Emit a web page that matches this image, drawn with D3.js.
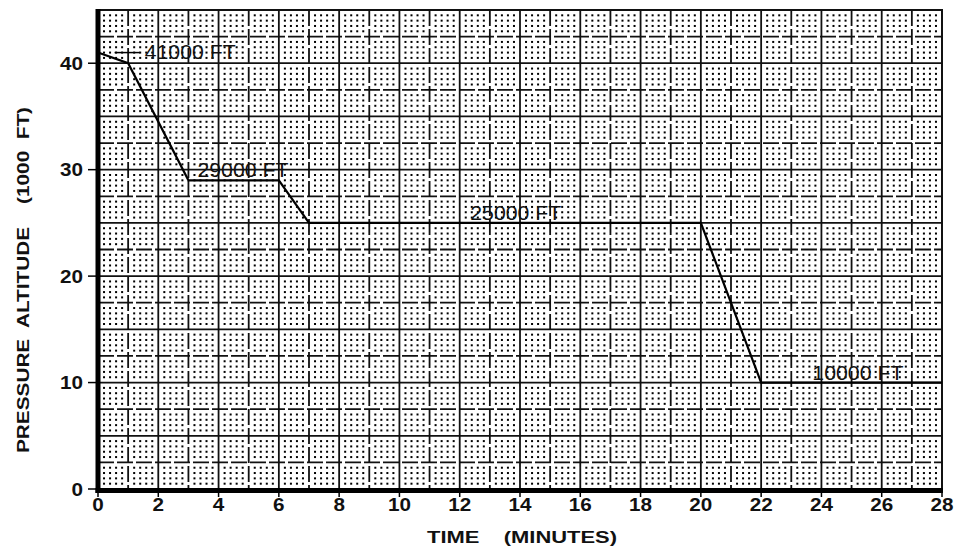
<!DOCTYPE html>
<html>
<head>
<meta charset="utf-8">
<script src="https://cdn.jsdelivr.net/npm/d3@7"></script>
<style>
  body { margin: 0; background: #fff; }
  text { font-family: "Liberation Sans", Arial, sans-serif; fill: #111; }
</style>
</head>
<body>
<div id="chart"></div>
<script>
// flight profile
var minutes = [0, 1, 3, 6, 7, 20, 22, 28];
var altitude = [41, 40, 29, 29, 25, 25, 10, 10];

// annotations (minute, altitude in 1000 ft)
var labelText = ["41000 FT", "29000 FT", "25000 FT", "10000 FT"];
var labelMin = [1.55, 3.3, 12.35, 23.7];
var labelAlt = [41.1, 30.0, 26.0, 10.9];
var leaderMin = [0.55, 1.4];
var leaderAlt = 41;

var xTicks = d3.range(0, 29, 2);
var yTicks = [0, 10, 20, 30, 40];

var width = 957, height = 549;

var x = d3.scaleLinear().domain([0, 28]).range([98, 942]);
var y = d3.scaleLinear().domain([0, 45]).range([489, 10]);

var svg = d3.select("#chart")
  .append("svg")
  .attr("width", width)
  .attr("height", height);

// dotted minor grid (0.2 min x 500 ft)
var dots = [];
for (var j = 1; j < 140; j++) {
  if (j % 5 == 0) continue;
  for (var k = 1; k < 90; k++) {
    if (k % 5 == 0) continue;
    dots.push([j * 0.2, k * 0.5]);
  }
}
svg.append("g")
  .selectAll("rect")
  .data(dots)
  .enter()
  .append("rect")
  .attr("x", function (d) { return x(d[0]) - 1; })
  .attr("y", function (d) { return y(d[1]) - 1; })
  .attr("width", 2)
  .attr("height", 2)
  .style("fill", "#000");

// grid lines
var vLines = d3.range(1, 28);
var hLines = d3.range(1, 18).map(function (i) { return i * 2.5; });

svg.append("g")
  .selectAll("line")
  .data(vLines)
  .enter()
  .append("line")
  .attr("x1", function (d) { return x(d); })
  .attr("x2", function (d) { return x(d); })
  .attr("y1", y(45))
  .attr("y2", y(0))
  .style("stroke", "#111")
  .style("stroke-width", 1.8)
  .style("stroke-dasharray", function (d) { return d % 2 == 0 ? null : "16,3"; });

svg.append("g")
  .selectAll("line")
  .data(hLines)
  .enter()
  .append("line")
  .attr("x1", x(0))
  .attr("x2", x(28))
  .attr("y1", function (d) { return y(d); })
  .attr("y2", function (d) { return y(d); })
  .style("stroke", "#111")
  .style("stroke-width", 1.8)
  .style("stroke-dasharray", function (d) { return d % 5 == 0 ? null : "16,3"; });

// frame: thin top/right, thick left/bottom
svg.append("line")
  .attr("x1", x(0)).attr("x2", x(28) + 1)
  .attr("y1", y(45)).attr("y2", y(45))
  .style("stroke", "#111").style("stroke-width", 2);
svg.append("line")
  .attr("x1", x(28)).attr("x2", x(28))
  .attr("y1", y(45)).attr("y2", y(0))
  .style("stroke", "#111").style("stroke-width", 2);
svg.append("line")
  .attr("x1", x(0)).attr("x2", x(0))
  .attr("y1", y(45) - 1).attr("y2", y(0) + 4)
  .style("stroke", "#000").style("stroke-width", 5);
svg.append("line")
  .attr("x1", x(0) - 2.5).attr("x2", x(28) + 1)
  .attr("y1", y(0) + 1.5).attr("y2", y(0) + 1.5)
  .style("stroke", "#000").style("stroke-width", 5);

// ticks
svg.append("g")
  .selectAll("line")
  .data(yTicks)
  .enter()
  .append("line")
  .attr("x1", x(0) - 10).attr("x2", x(0))
  .attr("y1", function (d) { return y(d); })
  .attr("y2", function (d) { return y(d); })
  .style("stroke", "#000").style("stroke-width", 1.5);

svg.append("g")
  .selectAll("line")
  .data(xTicks)
  .enter()
  .append("line")
  .attr("x1", function (d) { return x(d); })
  .attr("x2", function (d) { return x(d); })
  .attr("y1", y(0))
  .attr("y2", y(0) + 8)
  .style("stroke", "#000").style("stroke-width", 1.5);

// tick labels
svg.append("g")
  .selectAll("text")
  .data(yTicks)
  .enter()
  .append("text")
  .attr("x", x(0) - 15)
  .attr("y", function (d) { return y(d) + 6.5; })
  .attr("text-anchor", "end")
  .attr("textLength", function (d) { return String(d).length * 11.5; })
  .attr("lengthAdjust", "spacingAndGlyphs")
  .style("font-size", "18px")
  .style("font-weight", "bold")
  .text(function (d) { return d; });

svg.append("g")
  .selectAll("text")
  .data(xTicks)
  .enter()
  .append("text")
  .attr("x", function (d) { return x(d); })
  .attr("y", y(0) + 22)
  .attr("text-anchor", "middle")
  .attr("textLength", function (d) { return String(d).length * 11.5; })
  .attr("lengthAdjust", "spacingAndGlyphs")
  .style("font-size", "18px")
  .style("font-weight", "bold")
  .text(function (d) { return d; });

// axis titles
svg.append("text")
  .attr("x", 522)
  .attr("y", 543)
  .attr("text-anchor", "middle")
  .attr("textLength", 190)
  .attr("lengthAdjust", "spacingAndGlyphs")
  .style("font-size", "17px")
  .style("font-weight", "bold")
  .style("white-space", "pre")
  .text("TIME    (MINUTES)");

svg.append("text")
  .attr("transform", "translate(29,280) rotate(-90)")
  .attr("text-anchor", "middle")
  .attr("textLength", 346)
  .attr("lengthAdjust", "spacingAndGlyphs")
  .style("font-size", "17px")
  .style("font-weight", "bold")
  .style("white-space", "pre")
  .text("PRESSURE  ALTITUDE    (1000  FT)");

// profile line
var pts = minutes.map(function (m, i) { return [m, altitude[i]]; });
svg.append("path")
  .datum(pts)
  .attr("d", d3.line()
    .x(function (d) { return x(d[0]); })
    .y(function (d) { return y(d[1]); }))
  .style("fill", "none")
  .style("stroke", "#000")
  .style("stroke-width", 2.2);

// leader for 41000 FT
svg.append("line")
  .attr("x1", x(leaderMin[0])).attr("x2", x(leaderMin[1]))
  .attr("y1", y(leaderAlt)).attr("y2", y(leaderAlt))
  .style("stroke", "#000").style("stroke-width", 1.5);

// annotations
svg.append("g")
  .selectAll("text")
  .data(labelText)
  .enter()
  .append("text")
  .attr("x", function (d, i) { return x(labelMin[i]); })
  .attr("y", function (d, i) { return y(labelAlt[i]) + 7.5; })
  .attr("textLength", 91)
  .attr("lengthAdjust", "spacingAndGlyphs")
  .style("font-size", "20px")
  .style("font-weight", "500")
  .text(function (d) { return d; });
</script>
</body>
</html>
